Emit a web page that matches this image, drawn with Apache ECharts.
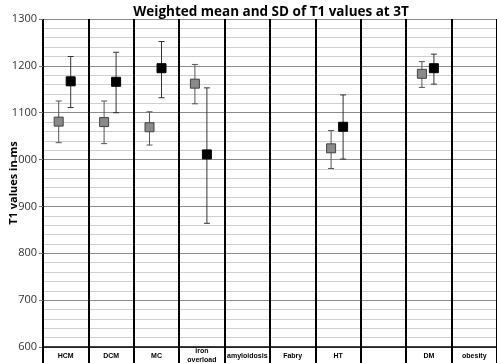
<!DOCTYPE html>
<html lang="en">
<head>
    <meta charset="UTF-8">
    <title>Weighted mean and SD of T1 values at 3T</title>
    <script src="https://cdn.jsdelivr.net/npm/echarts@6/dist/echarts.min.js"></script>
    <style>
        html, body { margin: 0; padding: 0; background: #fff; }
        #chart { width: 497px; height: 363px; }
    </style>
</head>
<body>
    <div id="chart"></div>

    <script>
        // categories and values
        var categories = ['HCM', 'DCM', 'MC', 'iron\noverload', 'amyloidosis', 'Fabry', 'HT', '', 'DM', 'obesity'];
        var grayMean = [1081, 1080, 1069, 1162, null, null, 1024, null, 1183, null];
        var grayLow  = [1036, 1034, 1031, 1119, null, null, 981, null, 1154, null];
        var grayHigh = [1125, 1125, 1102, 1203, null, null, 1062, null, 1209, null];
        var blackMean = [1167, 1166, 1195, 1011, null, null, 1070, null, 1195, null];
        var blackLow  = [1111, 1100, 1132, 864, null, null, 1001, null, 1161, null];
        var blackHigh = [1220, 1229, 1252, 1153, null, null, 1138, null, 1225, null];

        function errorData(low, high) {
            var out = [];
            low.forEach(function (v, i) {
                if (v != null) out.push([i, v, high[i]]);
            });
            return out;
        }

        function meanData(mean) {
            var out = [];
            mean.forEach(function (v, i) {
                if (v != null) out.push([i, v]);
            });
            return out;
        }

        function errorBars(dx, color) {
            return function (params, api) {
                var lo = api.coord([api.value(0), api.value(1)]);
                var hi = api.coord([api.value(0), api.value(2)]);
                var x = lo[0] + dx;
                var cap = 3;
                var style = { stroke: color, lineWidth: 1 };
                return {
                    type: 'group',
                    children: [
                        { type: 'line', shape: { x1: x, y1: hi[1], x2: x, y2: lo[1] }, style: style },
                        { type: 'line', shape: { x1: x - cap, y1: hi[1], x2: x + cap, y2: hi[1] }, style: style },
                        { type: 'line', shape: { x1: x - cap, y1: lo[1], x2: x + cap, y2: lo[1] }, style: style }
                    ]
                };
            };
        }

        var chart = echarts.init(document.getElementById('chart'));
        var option = {
            animation: false,
            title: {
                text: 'Weighted mean and SD of T1 values at 3T',
                left: 266,
                textAlign: 'center',
                top: 0,
                textStyle: { fontSize: 13.5, fontWeight: 'bold', color: '#000', fontFamily: 'Open Sans' }
            },
            grid: { left: 43, right: 0, top: 19, bottom: 16, outerBoundsMode: 'none', containLabel: false },
            xAxis: {
                type: 'category',
                data: categories,
                boundaryGap: true,
                axisLine: { lineStyle: { color: '#000', width: 1.5 } },
                axisTick: { show: true, interval: 0, length: 16, lineStyle: { color: '#000', width: 2 } },
                splitLine: { show: true, interval: 0, lineStyle: { color: '#000', width: 2 } },
                axisLabel: {
                    interval: 0, margin: 9, verticalAlign: 'middle', fontSize: 7, fontWeight: 'bold',
                    color: '#000', lineHeight: 9, fontFamily: 'Liberation Sans'
                }
            },
            yAxis: {
                type: 'value',
                min: 600,
                max: 1300,
                interval: 100,
                name: 'T1 values in ms',
                nameLocation: 'middle',
                nameGap: 24,
                nameMoveOverlap: false,
                nameTextStyle: { fontSize: 11, fontWeight: 'bold', color: '#000', fontFamily: 'Open Sans' },
                axisLine: { show: false },
                axisTick: { show: true, length: 4, lineStyle: { color: '#777' } },
                axisLabel: {
                    fontSize: 11, color: '#333', margin: 6, fontFamily: 'Open Sans',
                    formatter: function (v) { return String(v); }
                },
                splitLine: { lineStyle: { color: '#8c8c8c', width: 1 } },
                minorTick: { show: false, splitNumber: 5 },
                minorSplitLine: { show: true, lineStyle: { color: '#cfcfcf', width: 1 } }
            },
            series: [
                {
                    type: 'custom',
                    renderItem: errorBars(-7, '#555'),
                    data: errorData(grayLow, grayHigh),
                    z: 3
                },
                {
                    type: 'custom',
                    renderItem: errorBars(5, '#333'),
                    data: errorData(blackLow, blackHigh),
                    z: 3
                },
                {
                    type: 'scatter',
                    data: meanData(grayMean),
                    symbol: 'rect',
                    symbolSize: 9,
                    symbolOffset: [-7, 0],
                    itemStyle: { color: '#8a8a8a', borderColor: '#444', borderWidth: 1, opacity: 1 },
                    z: 4
                },
                {
                    type: 'scatter',
                    data: meanData(blackMean),
                    symbol: 'rect',
                    symbolSize: 9,
                    symbolOffset: [5, 0],
                    itemStyle: { color: '#000', borderColor: '#000', borderWidth: 1, opacity: 1 },
                    z: 4
                }
            ]
        };
        chart.setOption(option);
    </script>
</body>
</html>
